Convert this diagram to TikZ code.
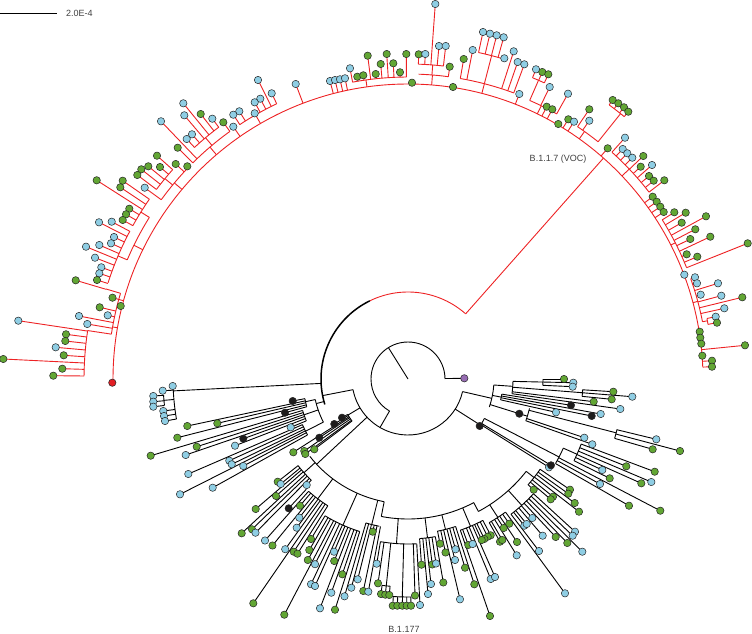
\documentclass[tikz,border=0pt]{standalone}
\usepackage{fontspec}
\setmainfont{Liberation Sans}
\usetikzlibrary{calc}
\definecolor{rd}{RGB}{237,34,36}
\definecolor{rl}{RGB}{226,30,36}
\definecolor{lb}{RGB}{143,206,228}
\definecolor{lg}{RGB}{98,166,52}
\definecolor{pu}{RGB}{150,108,178}
\definecolor{bk}{RGB}{30,28,28}
\newif\ifdotpass
\newcommand\lf[4]{%
  \ifdotpass\filldraw[fill=#4, draw=black!85, line width=0.5pt] (#3) circle[radius=3.7pt];%
  \else\draw[br,#1] ($(O)!#2pt!(#3)$) -- (#3);\fi}
\newcommand\lvs[3]{\foreach \x/\y/\q in {#3}{\lf{#1}{#2}{\x,\y}{\q}}}
\newcommand\dts[1]{\ifdotpass\foreach \x/\y/\q in {#1}{\filldraw[fill=\q, draw=black!85, line width=0.5pt] (\x,\y) circle[radius=3.7pt];}\fi}
\newcommand\stm[4]{\ifdotpass\else\draw[br,#1] ({408+(#3)*cos(#2)},{379+(#3)*sin(#2)}) -- ({408+(#4)*cos(#2)},{379+(#4)*sin(#2)});\fi}
\newcommand\carc[4]{\ifdotpass\else\draw[br,#1] ({408+(#2)*cos(#3)},{379+(#2)*sin(#3)}) arc[start angle={-(#3)}, end angle={-(#4)}, radius=#2pt];\fi}
\newcommand\treebody{%
% ================= RED CLADE =================
\carc{black,line width=1.5pt}{87}{163}{244}
\carc{rd}{87}{244}{311.5}
\stm{rd}{311.5}{87}{295}
\carc{rd}{295}{179.5}{357.7}
\dts{112.3/382.7/rl}
\lvs{rd}{295}{712/360.7/lg,712/366.7/lg,745/345.3/lg,652.7/196.7/lg,656.7/201.7/lg,660.3/206.7/lg,663.7/212/lg,607.7/148.3/lg,546.7/106.7/lg,552.3/109.3/lg,568.3/119.3/lg,574/121.7/lb,519.3/94/lb,330/81/lb,335/80/lb,340/79.3/lb,345/78.3/lb,295.7/84/lb,233.3/126.7/lb,112.5/297.7/lg}
\dts{702.3/355.7/lg,699.7/331.7/lg,700.3/337.7/lg,701.3/343.7/lg,684.3/274.7/lb,558.3/124/lg,453/87/lg,412/82.7/lg,120.7/306/lg}
% R-b
\stm{rd}{345}{295}{300}
\carc{rd}{300}{340.5}{349}
\lvs{rd}{300}{695/277.3/lb,697/283.3/lb,718/283.3/lb,700.7/294.7/lb,721.3/295.7/lb,742.3/297.3/lg,724.3/308.3/lb}
\stm{rd}{349}{300}{305}
\carc{rd}{305}{348.6}{349.7}
\lvs{rd}{305}{715.7/316.7/lb,717/322.7/lg}
% R-c
\stm{rd}{333}{295}{300}
\carc{rd}{300}{327.9}{338.2}
\lvs{rd}{300}{686.7/254.3/lg,697.3/256.7/lg,747.7/243.3/lg,690.3/239/lg,710.3/236.7/lg,695.3/229.3/lg,681.7/222.7/lg,706/216.3/lg,674.3/212.3/lg,685.7/212.7/lg}
% R-d
\stm{rd}{316.5}{295}{305}
\carc{rd}{305}{312}{322.2}
\lvs{rd}{305}{664.3/180.3/lg,649/176/lg,653.7/180.7/lg,652/165/lb,640.7/166.7/lg,643.3/156/lg,622.7/149/lb,627.3/153.3/lb,632.3/157.7/lb,625/137.7/lb}
% R-e
\stm{rd}{305.5}{295}{304}
\carc{rd}{304}{303.9}{308.7}
\lvs{rd}{304}{589.3/109.3/lg,589.3/120.7/lb}
\stm{rd}{308.7}{304}{340}
\carc{rd}{340}{306.3}{309.5}
\lvs{rd}{340}{612.7/100/lg,618.3/103.3/lg,624/107.3/lg,628.3/111.7/lg}
% R-f
\stm{rd}{296}{295}{304}
\carc{rd}{304}{293.6}{299.3}
\lvs{rd}{304}{568/93.7/lb,549.7/87/lb}
\stm{rd}{293.6}{304}{326}
\carc{rd}{326}{292.5}{294.7}
\lvs{rd}{326}{536/69.3/lb,542.3/72/lg,548.3/74.3/lg}
\stm{rd}{284.5}{295}{305}
\carc{rd}{305}{279.9}{290.3}
\lvs{rd}{305}{463.7/59/lg,472.7/50/lb,513.7/51.3/lb,517.7/62/lb,524.3/64.3/lb}
\stm{rd}{284.5}{305}{334}
\carc{rd}{334}{282.2}{286.7}
\lvs{rd}{334}{483/32/lb,490/33.7/lb,496.7/35.3/lb,503.7/37.3/lb}
\dts{504.3/58.3/lb}
% R-g
\stm{rd}{274.6}{295}{305}
\carc{rd}{305}{272}{277.6}
\lvs{rd}{305}{449.7/66.7/lg}
\stm{rd}{274.5}{305}{315}
\carc{rd}{315}{271.9}{276.5}
\lvs{rd}{315}{418.7/54.3/lg,425.3/54/lb,439/46/lb,445.7/46/lb,435.3/4/lb}
% R-h
\stm{rd}{262}{295}{302}
\carc{rd}{302}{259.4}{269.7}
\lvs{rd}{302}{406.3/54/lg,400/72.3/lg,393.3/63.3/lg,386.7/54/lg,380.7/64/lg,375.7/74/lg,367.7/55.7/lg,357.3/76.7/lg,363.3/75.3/lg,350/68.3/lb}
% R-j
\stm{rd}{240}{295}{305}
\carc{rd}{305}{236.5}{244.5}
\lvs{rd}{305}{271.7/93.3/lb,260.3/98.7/lb,254.7/102.3/lb,258/80/lb,254.7/113.3/lb,239.3/111.3/lb,233.3/114.7/lb}
% R-i
\stm{rd}{229.5}{295}{305}
\carc{rd}{305}{225.1}{234.3}
\lvs{rd}{305}{223.3/122.3/lg,177.7/147.7/lg,161/121.3/lb}
\stm{rd}{230}{305}{315}
\carc{rd}{315}{227.3}{233.1}
\lvs{rd}{315}{212.3/118.7/lb,200.7/114/lg,184.3/115.3/lb,183.3/103.3/lb,192/134.3/lb,186.7/139/lb}
% R-k
\stm{rd}{220}{295}{305}
\carc{rd}{305}{216}{223.9}
\lvs{rd}{305}{187.3/166.3/lg,175.7/164/lg,144.7/187.7/lb}
\stm{rd}{219.5}{305}{315}
\carc{rd}{315}{217}{221.7}
\lvs{rd}{315}{160/167/lg,157/155.7/lg,148.3/166.3/lg,141.3/169.3/lg,137.3/175/lg}
% R-l
\stm{rd}{206}{295}{305}
\carc{rd}{305}{203}{212}
\stm{rd}{212}{305}{315}
\carc{rd}{315}{209.1}{214.8}
\lvs{rd}{315}{122.7/180.7/lg,120.3/187.3/lg,96.7/180.3/lg,129.3/208.7/lg,126/214.3/lg,122.7/220/lg}
\stm{rd}{203}{305}{315}
\carc{rd}{315}{197.8}{208}
\lvs{rd}{315}{111.7/221.7/lb,99/222.3/lb,114/237/lb,111/243.3/lb,99.3/245/lb,86/246.7/lb,95/257.7/lb,101.3/267.3/lb,99.3/273.3/lb,97/280/lg}
% R-m
\stm{rd}{190}{295}{300}
\carc{rd}{300}{188.6}{196.6}
\lvs{rd}{300}{99.7/307.3/lg,107.7/315.3/lb,79/316/lb,87.3/324/lb}
\stm{rd}{196.6}{300}{315}
\lvs{rd}{315}{75.7/280.3/lg}
\stm{rd}{188.6}{300}{324}
\carc{rd}{324}{180.5}{188.6}
\lvs{rd}{324}{18.3/320.7/lb,66/334.3/lg,65.3/341/lg,55.7/347.3/lb,63.7/355.3/lg,3.3/359/lg,62.3/368.7/lg,53.3/375.7/lg}
% ================= BLACK (B.1.177 etc.) =================
\stm{black}{238}{0}{37}
\carc{black}{37}{0}{-240}
\lvs{black}{37}{464.3/378.3/pu}
\stm{black}{120}{37}{56}
\carc{black}{56}{13}{169}
\stm{black}{169}{56}{87}
% top-left blue cluster
\stm{black}{177.1}{87}{235}
\carc{black}{235}{170.2}{178.3}
\dts{172.7/386/lb}
\lvs{black}{235}{162.7/390.7/lb,163.3/411/lb,164/416/lb,165/421/lb}
\stm{black}{175}{235}{245}
\carc{black}{245}{173.8}{176.2}
\lvs{black}{245}{153.3/396/lb,153.3/401.7/lb,153.3/406.7/lb}
% left fan
\stm{black}{165}{87}{95}
\carc{black}{95}{153}{167.5}
\stm{black}{167.5}{95}{105}
\carc{black}{105}{164.7}{169.2}
\lvs{black}{105}{187.3/426/lg,217.3/423.3/lg,177.3/437.7/lg,292.7/401/bk,285/412.7/bk}
\stm{black}{161}{95}{110}
\carc{black}{110}{157.6}{163.4}
\lvs{black}{110}{290.7/427.3/lb,150.7/455.7/lg,196.7/446.7/lg,185.7/455/lb,235/445.7/lb,243.3/438.7/bk}
\stm{black}{153}{95}{115}
\carc{black}{115}{150.9}{156.6}
\lvs{black}{115}{229.3/460.7/lb,231.7/464.3/lb,243.3/466/lb,188.3/474/lb,212.7/487.7/lb,180/494.3/lb}
% lower-left small fan
\stm{black}{149}{56}{70}
\carc{black}{70}{143.1}{149.6}
\lvs{black}{70}{293.3/452.3/lg,304.3/451/lg,305.3/454/lg,314.3/449.3/lg,342/417.7/bk,334.3/424/bk,319.3/437.7/bk}
% lower part (B.1.177)
\stm{black}{137}{56}{125}
\carc{black}{125}{101}{141.8}
\stm{black}{138}{125}{140}
\carc{black}{140}{133.7}{141.8}
\lvs{black}{140}{277.7/481.7/lg,280.7/484/lb,306.7/485/lb,276/496/lg,255.7/509/lg,241.7/533.3/lg,252/529.3/lg,255.5/532.7/lb}
\stm{black}{127}{125}{150}
\carc{black}{150}{122.3}{131.5}
\lvs{black}{150}{288.7/508.3/bk,300/505.7/lg,299.3/517.7/lb,296.7/527.7/lb,265/540.5/lb,272.5/545.5/lg,285.2/549.2/lb,293.7/551.7/lg,297.5/553.7/lg,253.3/603.3/lg}
\stm{black}{114}{125}{160}
\carc{black}{160}{107.6}{121.2}
\lvs{black}{160}{311/539/lg,309.3/550/lg,307.8/560/lg,315/564.2/lb,334/551.7/lb,334.2/561/lg,311/584.2/lb,315/586/lb,342.3/574.3/lg,331.3/592.7/lb,320/608.3/lb,335/609.7/lg,284.3/614.7/lg}
\stm{black}{104}{125}{150}
\carc{black}{150}{101}{106.3}
\lvs{black}{150}{357.7/579.3/lb,351.3/587.7/lb,344.5/596.3/lb,363.3/591/lg,368.3/591.7/lb,372.7/531.7/lg}
\stm{black}{101}{125}{140}
\carc{black}{140}{62}{101}
\stm{black}{94}{140}{165}
\carc{black}{165}{87}{99.6}
\lvs{black}{165}{376.7/563.7/lb,378/583.3/lg,420/605/lb,415/595.5/lg}
\stm{black}{91.5}{165}{218}
\carc{black}{218}{89.2}{93.9}
\lvs{black}{218}{392.7/605.7/lg,397.3/605.7/lg,402.3/605.7/lg,406.7/605.7/lg,411/605.7/lg}
\stm{black}{96}{165}{208}
\carc{black}{208}{94.9}{97.2}
\lvs{black}{208}{381/594/lg,385.3/594.7/lg,389.3/595/lg}
\stm{black}{83}{140}{160}
\carc{black}{160}{80.2}{85.8}
\lvs{black}{160}{421.5/564.7/lg,432.3/564.5/lg,436/563.5/lb,431/584/lb,443.3/582.5/lg,428/594/lb}
\stm{black}{76}{140}{155}
\carc{black}{155}{72.1}{79}
\lvs{black}{155}{440/543.7/lg,445.5/552.5/lg,455.5/549.3/lb,455/560/lb,465/567.7/lg,474.3/584.3/lg,460/599.3/lb}
\stm{black}{67}{140}{160}
\carc{black}{160}{62.1}{70.9}
\lvs{black}{160}{468.3/545/lg,472.7/544/lb,490.7/579/lb,495/577/lb,490/616/lg,490.7/535.3/lg,487.7/536.7/lg,484.3/539/lg,481.7/540/lg}
\stm{black}{62}{140}{150}
\carc{black}{150}{38}{62}
\stm{black}{57}{150}{165}
\carc{black}{165}{53.8}{60.5}
\lvs{black}{165}{500/541.7/lg,502.3/540/lg,503.7/528/lg,509.3/523.7/lg,517/542/lg,516.7/555.3/lb,565/593.3/lb}
\stm{black}{48}{150}{170}
\carc{black}{170}{42.4}{52.7}
\lvs{black}{170}{524.3/525.7/lb,526.7/524/lb,532.3/518/lb,542.7/535.7/lb,539/551/lb,555.7/537/lg,567.3/543/lg,575/531.7/lb,572.7/535.7/lb,582.3/551.7/lb}
\stm{black}{38}{150}{160}
\carc{black}{160}{34.3}{41.4}
\lvs{black}{160}{533.7/489.7/lg,570/489.7/lg,568.3/493.7/lg,553/496.7/lg,550.7/499.3/lg,574.7/503/lg,579/511.7/lg}
% right fan 1
\stm{black}{13}{56}{86}
\carc{black}{86}{4}{19}
\stm{black}{4}{86}{105}
\carc{black}{105}{1.3}{8}
\stm{black}{1.3}{105}{135}
\carc{black}{135}{0}{2.7}
\lvs{black}{135}{564/379/lg,573.3/382.7/lb,572.7/386.7/lb}
\stm{black}{4.5}{105}{175}
\carc{black}{175}{3.5}{5.7}
\lvs{black}{175}{613.3/391.7/lg,632.3/396.7/lb,611.7/399.3/lg}
\lvs{black}{105}{593.7/401.7/lg,620.3/409/lb}
\stm{black}{11}{86}{95}
\carc{black}{95}{9.2}{12.7}
\lvs{black}{95}{600.7/414/lb,556/412.3/lb,571/405.3/bk,591.7/416/bk}
\stm{black}{17.3}{86}{125}
\dts{519.3/413.7/bk}
\carc{black}{125}{13.6}{19.5}
\lvs{black}{125}{584.3/437.7/lb,592.3/444.3/lb}
\stm{black}{14.5}{125}{215}
\carc{black}{215}{13.6}{16}
\lvs{black}{215}{656.3/439.3/lb,652.7/449.3/lg,680/451/lg}
% right fan 2
\stm{black}{32.5}{56}{86}
\dts{479.7/426/bk}
\carc{black}{86}{27.3}{32.5}
\lvs{black}{86}{549/467.3/lb,551/465.3/bk}
\stm{black}{27.3}{86}{170}
\carc{black}{170}{24}{29.8}
\lvs{black}{170}{600/484/lb,629/505.7/lg,660.3/510.7/lg}
\stm{black}{24}{170}{185}
\carc{black}{185}{20.6}{26.2}
\lvs{black}{185}{602.3/470/lb,609.7/478.3/lg,641.3/483.3/lg,651.3/482/lb,626.3/466.3/lg,654.7/471.7/lg}
}
\begin{document}
\begin{tikzpicture}[x=1pt,y=-1pt,
  br/.style={line width=0.9pt},
  lbl/.style={font=\fontsize{9}{10}\selectfont, text=black!75, inner sep=0pt}]
\useasboundingbox (0,0) rectangle (752,634);
\coordinate (O) at (408,379);
% scale bar
\coordinate (s1) at (0,13);
\coordinate (s2) at (57,13);
\draw[line width=0.9pt] (s1) -- (s2);
\node[lbl, anchor=west] (scale) at (66,13) {2.0E-4};
\node[lbl] (voc) at (558,159) {B.1.1.7 (VOC)};
\node[lbl] (b177) at (404,629) {B.1.177};
\dotpassfalse
\treebody
\dotpasstrue
\treebody
\end{tikzpicture}
\end{document}
